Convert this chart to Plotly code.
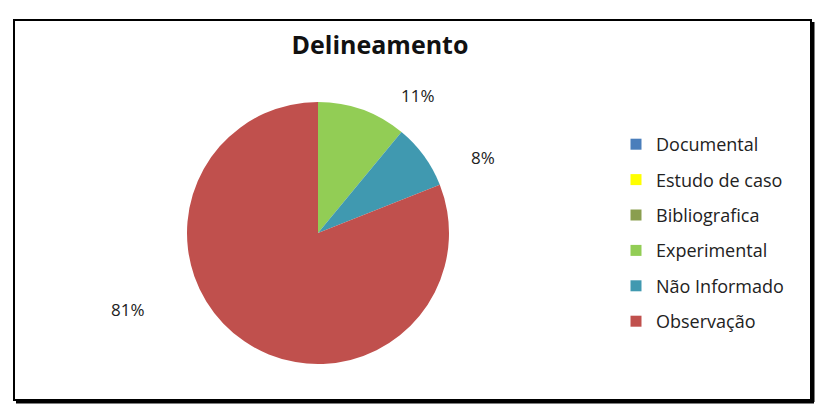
import plotly.graph_objects as go

categories = ["Documental", "Estudo de caso", "Bibliografica", "Experimental", "Não Informado", "Observação"]
values = [0, 0, 0, 11, 8, 81]
colors = ["#4A7EBB", "#FFFF00", "#8A9E4F", "#92CD55", "#4099B0", "#C0504D"]

# data label placement (pixel positions in the page, style only)
label_pos = [None, None, None, (418, 95), (483, 157), (128, 309)]

FONT = "Open Sans"
W, H = 824, 414
OFF = 8  # page body margin offset


def px(x):
    return (x - OFF) / W


def py(y):
    return 1 - (y - OFF) / H


cx, cy, r = 318, 233, 131

fig = go.Figure()
fig.add_trace(go.Pie(
    labels=categories, values=values,
    marker=dict(colors=colors, line=dict(width=0)),
    sort=False, direction="clockwise", rotation=0,
    textinfo="none",
    domain=dict(x=[px(cx - r), px(cx + r)], y=[py(cy + r), py(cy - r)]),
    showlegend=False, hoverinfo="label+percent",
))
for i, (c, col) in enumerate(zip(categories, colors)):
    fig.add_trace(go.Scatter(
        x=[None], y=[None], mode="markers", name=c,
        marker=dict(symbol="square", size=11, color=col),
        legendgroup=f"g{i}", showlegend=True,
    ))

annotations = []
for v, pos in zip(values, label_pos):
    if v > 0 and pos:
        annotations.append(dict(
            text=f"{v}%", x=px(pos[0]), y=py(pos[1]), xref="paper", yref="paper",
            showarrow=False, xanchor="center", yanchor="middle",
            font=dict(family=FONT, size=17, color="#222222"),
        ))

fig.update_layout(
    width=W, height=H,
    margin=dict(l=0, r=0, t=0, b=0),
    paper_bgcolor="white", plot_bgcolor="white",
    xaxis=dict(visible=False), yaxis=dict(visible=False),
    title=dict(text="<b>Delineamento</b>", x=px(380), xanchor="center",
               y=py(45), yanchor="middle",
               font=dict(family=FONT, size=25, color="#111111")),
    legend=dict(x=px(616), xanchor="left", y=py(126), yanchor="top",
                font=dict(family=FONT, size=18, color="#222222"),
                tracegroupgap=9, itemclick=False, bgcolor="rgba(0,0,0,0)"),
    annotations=annotations,
    shapes=[
        dict(type="rect", xref="paper", yref="paper",
             x0=px(14), x1=px(811), y0=py(400), y1=py(20),
             line=dict(color="black", width=2)),
        dict(type="line", xref="paper", yref="paper",
             x0=px(813), x1=px(813), y0=py(402), y1=py(22),
             line=dict(color="black", width=3)),
        dict(type="line", xref="paper", yref="paper",
             x0=px(16), x1=px(814), y0=py(402), y1=py(402),
             line=dict(color="black", width=3)),
    ],
)
fig.write_html("out.html")
